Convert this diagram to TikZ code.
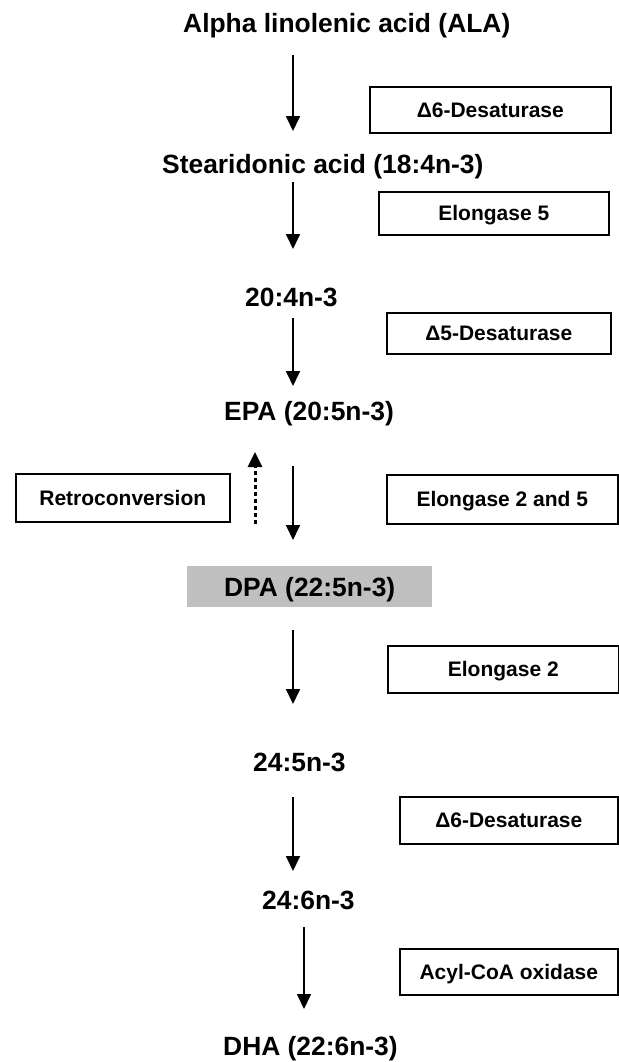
\documentclass[tikz,border=0pt]{standalone}
\usepackage{fontspec}
\setmainfont{Liberation Sans}
\usetikzlibrary{arrows.meta}
\definecolor{dpagray}{RGB}{192,192,192}
\begin{document}
\begin{tikzpicture}[x=1bp,y=-1bp,
  lab/.style={font=\bfseries\fontsize{26.4bp}{30bp}\selectfont, inner sep=0pt, anchor=base west},
  enz/.style={draw, line width=1.6bp, font=\bfseries\fontsize{21bp}{24bp}\selectfont, inner sep=0pt, text height=15bp, text depth=0pt, anchor=north west},
  arr/.style={line width=1.8bp, -{Triangle[length=15bp,width=14bp]}},
  darr/.style={line width=3bp, dash pattern=on 4bp off 3bp, -{Triangle[length=15bp,width=14bp]}},
  hl/.style={fill=dpagray, inner sep=0pt, anchor=north west, font=\bfseries\fontsize{26.4bp}{30bp}\selectfont, text height=19bp, text depth=0pt}
]
\useasboundingbox (0,0) rectangle (619,1062);

% metabolites
\node[lab] (ala) at (183,32) {Alpha linolenic acid (ALA)};
\node[lab] (sda) at (162,173) {Stearidonic acid (18:4n-3)};
\node[lab] (eta) at (245,306) {20:4n-3};
\node[lab] (epa) at (224,420) {EPA (20:5n-3)};
\node[hl, minimum width=245bp, minimum height=41bp] (dpa) at (187,566) {DPA (22:5n-3)};
\node[lab] (tpa) at (253,771) {24:5n-3};
\node[lab] (thA) at (262,909) {24:6n-3};
\node[lab] (dha) at (223,1055) {DHA (22:6n-3)};

% enzymes
\node[enz, minimum width=241bp, minimum height=46bp] (e1) at (369,86) {Δ6-Desaturase};
\node[enz, minimum width=230bp, minimum height=43bp] (e2) at (378,191) {Elongase 5};
\node[enz, minimum width=224bp, minimum height=41bp] (e3) at (386,312) {Δ5-Desaturase};
\node[enz, minimum width=214bp, minimum height=48bp] (rc) at (15,473) {Retroconversion};
\node[enz, minimum width=231bp, minimum height=49bp] (e4) at (386,474) {Elongase 2 and 5};
\node[enz, minimum width=231bp, minimum height=47bp] (e5) at (387,645) {Elongase 2};
\node[enz, minimum width=218bp, minimum height=47bp] (e6) at (399,796) {Δ6-Desaturase};
\node[enz, minimum width=218bp, minimum height=46bp] (e7) at (399,948) {Acyl-CoA oxidase};

% arrow end points
\coordinate (a1s) at (293,55);  \coordinate (a1e) at (293,131);
\coordinate (a2s) at (293,182); \coordinate (a2e) at (293,249);
\coordinate (a3s) at (293,318); \coordinate (a3e) at (293,386);
\coordinate (a4s) at (293,466); \coordinate (a4e) at (293,540);
\coordinate (r1s) at (255,524); \coordinate (r1e) at (255,452);
\coordinate (a5s) at (293,630); \coordinate (a5e) at (293,704);
\coordinate (a6s) at (293,797); \coordinate (a6e) at (293,871);
\coordinate (a7s) at (304,927); \coordinate (a7e) at (304,1009);

\draw[arr] (a1s) -- (a1e);
\draw[arr] (a2s) -- (a2e);
\draw[arr] (a3s) -- (a3e);
\draw[arr] (a4s) -- (a4e);
\draw[darr] (r1s) -- (r1e);
\draw[arr] (a5s) -- (a5e);
\draw[arr] (a6s) -- (a6e);
\draw[arr] (a7s) -- (a7e);
\end{tikzpicture}
\end{document}
